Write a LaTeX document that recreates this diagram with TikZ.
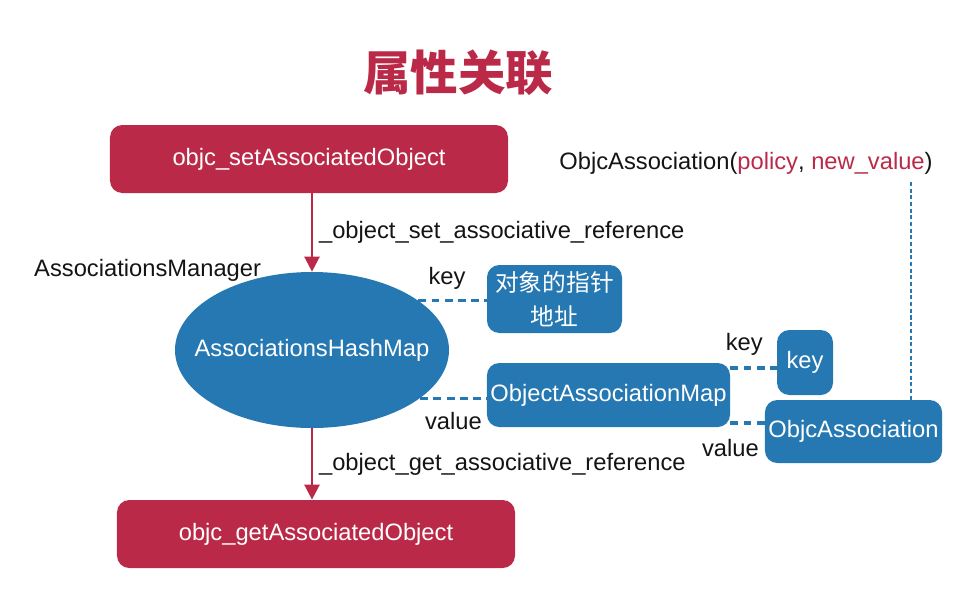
\documentclass[tikz,border=0pt]{standalone}
\usepackage{fontspec}
\setmainfont{Liberation Sans}
\newfontfamily\cjk{Noto Sans CJK SC}
\usepackage{xcolor}
\usepackage{tikz}
\usetikzlibrary{shapes.geometric, arrows.meta, positioning, calc}
\definecolor{myred}{RGB}{186,42,72}
\definecolor{myblue}{RGB}{38,120,178}
\definecolor{mydark}{RGB}{20,20,20}
\tikzset{
  redblock/.style={rectangle, draw=none, fill=myred, text=white,
    minimum width=7.96cm, minimum height=1.36cm,
    font=\fontsize{13.5}{16}\selectfont, rounded corners=7pt},
  block/.style={rectangle, draw=none, fill=myblue, text=white, align=center,
    inner sep=2pt, font=\fontsize{13.5}{19}\selectfont, rounded corners=7pt},
  hashmap/.style={ellipse, draw=none, fill=myblue, inner sep=0pt,
    minimum width=5.48cm, minimum height=3.12cm},
  hmtext/.style={text=white, font=\fontsize{13.5}{16}\selectfont},
  lbl/.style={font=\fontsize{13.5}{16}\selectfont, text=mydark},
  arrow/.style={-{Triangle[width=0.3cm, length=0.3cm]}, line width=1.4pt, color=myred},
  link/.style={line width=1.8pt, color=myblue, dash pattern=on 4.5pt off 3pt},
  dotlink/.style={line width=1.6pt, color=myblue, dash pattern=on 2.3pt off 1.5pt}
}
\begin{document}
\begin{tikzpicture}[x=0.2mm, y=-0.2mm]
  \useasboundingbox (0,0) rectangle (964,589);
  \node[font=\cjk\bfseries\fontsize{27}{30}\selectfont, text=myred] (ttl) at (458,73) {属性关联};

  \node[redblock] (setobj) at (309,159) {objc\_setAssociatedObject};
  \node[hashmap, label={[hmtext]center:AssociationsHashMap}] (hmap) at (312,350) {};
  \node[redblock] (getobj) at (316,534) {objc\_getAssociatedObject};
  \node[lbl, anchor=west] (mgr) at (28,270) {AssociationsManager};

  \node[block, minimum width=2.7cm, minimum height=1.36cm, font=\cjk\fontsize{13.5}{19}\selectfont] (addr) at (554.5,299) {对象的指针\\地址};
  \node[block, minimum width=4.86cm, minimum height=1.28cm] (oam) at (608.5,395) {ObjectAssociationMap};
  \node[block, minimum width=1.12cm, minimum height=1.3cm] (key) at (805,362.5) {key};
  \node[block, minimum width=3.5cm, minimum height=1.26cm] (oa) at (853.5,431.5) {ObjcAssociation};
  \node[lbl] (oadesc) at (746,163) {ObjcAssociation(\textcolor{myred}{policy}, \textcolor{myred}{new\_value})};

  % Paths
  \draw[arrow] (setobj.south -| hmap.north) -- (hmap.north)
    node[lbl, right, pos=0.5] {\_object\_set\_associative\_reference};
  \draw[arrow] (hmap.south) -- (hmap.south |- getobj.north)
    node[lbl, right, pos=0.5] {\_object\_get\_associative\_reference};

  % key / value links
  \draw[link] (hmap.25) -- (hmap.25 -| addr.west)
    node[lbl, above, pos=0.42, yshift=2pt] {key};
  \draw[link] (hmap.-24) -- (hmap.-24 -| oam.west)
    node[lbl, below, pos=0.5, yshift=-4pt] {value};
  \draw[link] ([yshift=-0.11cm]key.west -| oam.east) -- ([yshift=-0.11cm]key.west)
    node[lbl, above, pos=0.3, yshift=3pt] {key};
  \draw[link] ([yshift=0.17cm]oa.west -| oam.east) -- ([yshift=0.17cm]oa.west)
    node[lbl, below, pos=0.0, yshift=-5pt] {value};

  % policy and value
  \draw[dotlink] ([xshift=1.15cm]oa.north) -- ([xshift=1.15cm]oa.north |- oadesc.south);
\end{tikzpicture}
\end{document}
